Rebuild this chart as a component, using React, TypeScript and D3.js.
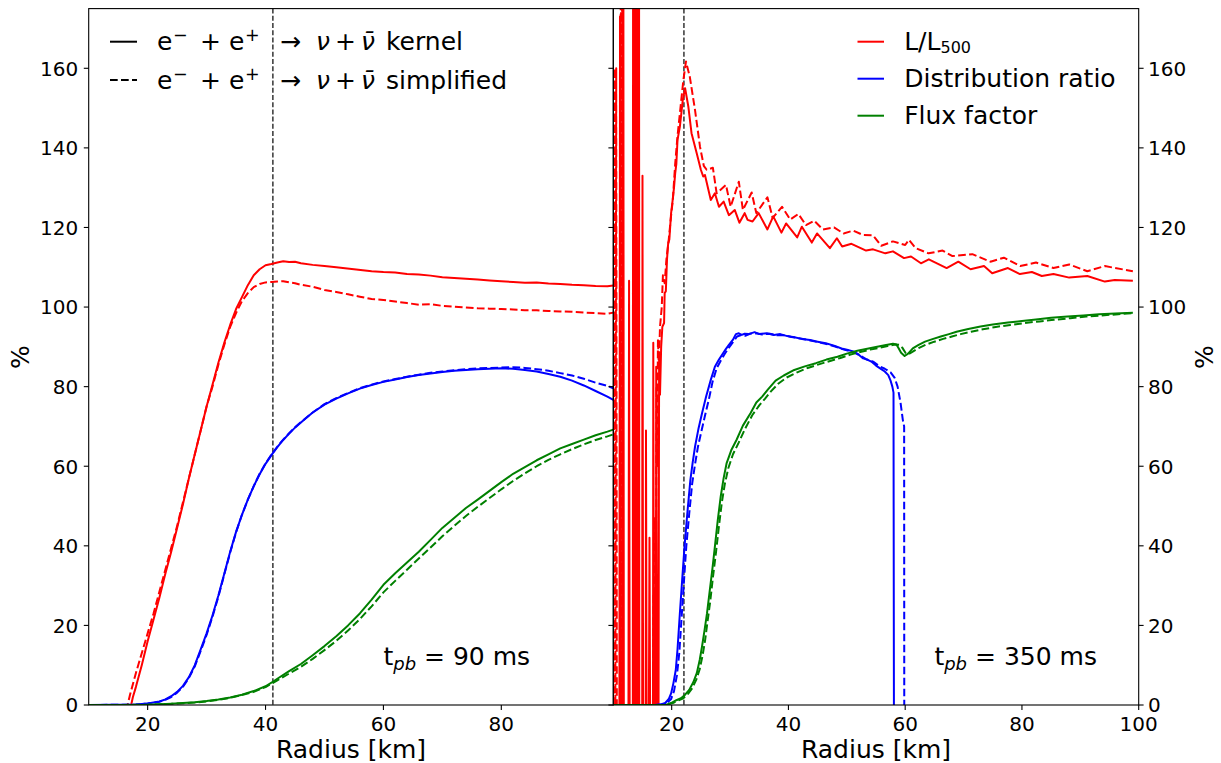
import React from 'react';
import * as d3 from 'd3';

type P = [number, number];

// ---------- Left panel (t_pb = 90 ms) ----------
const leftLumKernel: P[] = [[10,0],[17.2,0],[17.5,2],[18,4.5],[19,10],[20,16],[21,21.5],[22,27],[23,33],[24,38.5],[25,44.5],[26,50.5],[27,57],[28,63],[29,69],[30,75],[31,80.5],[32,86],[33,91],[34,95.5],[35,99.5],[36,102.5],[37,105.5],[38,108],[39,109.5],[40,110.5],[41,110.8],[42,111.2],[43,111.5],[44,111.3],[45,111.4],[46,111],[48,110.6],[50,110.3],[52,110],[55,109.5],[58,109],[60,108.8],[62,108.7],[64,108.3],[66,108.2],[68,107.9],[70,107.5],[72,107.3],[74,107.1],[76,106.9],[78,106.7],[80,106.5],[82,106.3],[84,106.1],[86,106.2],[88,105.9],[90,105.8],[92,105.6],[94,105.5],[96,105.3],[98,105.2],[99,105.4]];
const leftLumSimple: P[] = [[10,0],[16.6,0],[17,2.5],[18,8],[19,13],[20,18],[21,23],[22,28.5],[23,34],[24,39.5],[25,45],[26,51],[27,57],[28,63],[29,69],[30,75],[31,80],[32,85.5],[33,90.5],[34,95],[35,98.5],[36,101.5],[37,103.5],[38,105],[39,105.8],[40,106.2],[41,106.3],[42,106.4],[43,106.5],[44,106.2],[45,106],[46,105.6],[48,105.1],[50,104.3],[52,103.8],[54,103.2],[56,102.6],[58,102],[60,101.8],[62,101.4],[64,101],[66,100.6],[68,100.7],[70,100.3],[72,100.1],[74,99.9],[76,99.7],[78,99.6],[80,99.5],[82,99.4],[84,99.2],[86,99.2],[88,99],[90,98.9],[92,98.8],[94,98.6],[96,98.5],[98,98.3],[99,98.6]];
const leftDistKernel: P[] = [[10,0],[18,0.1],[20,0.4],[22,0.9],[23,1.4],[24,2.2],[25,3.3],[26,4.8],[27,7],[28,10],[29,14],[30,18],[31,22.5],[32,27.5],[33,33],[34,38.5],[35,43.5],[36,47.8],[37,51.6],[38,55],[39,58],[40,60.6],[41,62.8],[42,64.8],[43,66.6],[44,68.2],[45,69.7],[46,71],[48,73.5],[50,75.5],[52,77],[54,78.3],[56,79.5],[58,80.4],[60,81.2],[62,81.8],[64,82.4],[66,82.9],[68,83.3],[70,83.7],[72,84],[74,84.2],[76,84.4],[78,84.5],[80,84.6],[82,84.5],[84,84.2],[86,83.8],[88,83.2],[90,82.5],[92,81.5],[94,80.3],[96,78.9],[98,77.5],[99,76.7]];
const leftDistSimple: P[] = [[10,0],[18,0.1],[20,0.4],[22,0.8],[23,1.3],[24,2],[25,3.1],[26,4.6],[27,6.8],[28,9.7],[29,13.6],[30,17.6],[31,22.2],[32,27.2],[33,32.8],[34,38.3],[35,43.4],[36,47.8],[37,51.6],[38,55],[39,58.1],[40,60.7],[41,62.9],[42,64.9],[43,66.7],[44,68.3],[45,69.8],[46,71.1],[48,73.5],[50,75.6],[52,77.1],[54,78.4],[56,79.6],[58,80.5],[60,81.3],[62,81.9],[64,82.5],[66,83],[68,83.5],[70,83.8],[72,84.1],[74,84.4],[76,84.6],[78,84.7],[80,84.8],[82,84.9],[84,84.7],[86,84.4],[88,84],[90,83.4],[92,82.8],[94,82],[96,81],[98,80.2],[99,79.6]];
const leftFluxKernel: P[] = [[10,0],[20,0.05],[24,0.3],[28,0.7],[30,1],[32,1.4],[34,1.9],[36,2.6],[38,3.5],[40,4.7],[41.3,5.9],[42,6.6],[44,8.5],[46,10.3],[48,12.5],[50,14.8],[52,17.3],[54,20],[56,23],[58,26.5],[60,30.2],[62,33.1],[64,35.8],[66,38.5],[68,41.5],[70,44.5],[72,47],[74,49.5],[76,51.6],[78,53.8],[80,56],[82,58.1],[84,59.8],[86,61.5],[88,63],[90,64.5],[92,65.6],[94,66.7],[96,67.8],[98,68.7],[99,69.2]];
const leftFluxSimple: P[] = [[10,0],[20,0.05],[24,0.3],[28,0.6],[30,0.9],[32,1.3],[34,1.8],[36,2.5],[38,3.3],[40,4.5],[42,6.2],[44,7.9],[46,9.6],[48,11.6],[50,13.8],[52,16.1],[54,18.7],[56,21.6],[58,24.8],[60,28.3],[62,31.2],[64,34],[66,36.8],[68,39.6],[70,42.4],[72,45],[74,47.5],[76,49.8],[78,52],[80,54.2],[82,56.3],[84,58.2],[86,60],[88,61.6],[90,63],[92,64.3],[94,65.5],[96,66.6],[98,67.5],[99,68]];

// ---------- Right panel (t_pb = 350 ms) ----------
const rightLumKernel: P[] = [[10,0],[11.05,0],[11.15,173],[11.25,0],[11.6,0],[11.7,260],[11.8,0],[12.6,0],[12.7,106.6],[12.8,0],[13.35,0],[13.4,260],[13.5,-40],[13.65,260],[13.75,-40],[13.9,260],[14,-40],[14.15,260],[14.25,-40],[14.4,260],[14.45,0],[14.95,0],[15,133],[15.1,0],[15.55,0],[15.6,69],[15.7,0],[16.1,0],[16.2,42],[16.3,0],[16.8,0],[16.85,91],[16.95,0],[17.3,0],[17.35,85],[17.5,0],[17.75,0],[17.85,88],[18,78],[18.2,90],[18.4,95],[18.7,96],[18.8,103.5],[19,104],[19.2,112],[19.4,116],[19.6,117],[19.9,123.6],[20.1,126],[20.4,130],[20.6,133.6],[20.8,136],[21,142],[21.4,145.3],[21.9,152],[22.3,155],[22.85,150.4],[23.4,143.7],[24.3,138.6],[25,134.5],[25.4,132.8],[25.7,133.2],[26.7,126.9],[27.4,128.6],[28.1,125.2],[28.9,126.5],[29.8,123.1],[30.8,124.4],[31.6,121.2],[32.5,123.6],[33,121.9],[33.85,121.5],[34.9,123.6],[36.4,119.5],[37.4,122.8],[38.8,118.7],[39.6,121],[41.5,117.5],[42.3,120.2],[44,116.2],[44.9,118.5],[47.1,114.8],[48.3,117.3],[49.2,115.2],[50.8,115.9],[53.3,114.2],[54.5,114.5],[56.6,113.5],[57.9,114],[59.8,112.3],[61,112.7],[62.7,111],[64.05,112],[67.1,109.8],[69.1,111.4],[71.2,109.5],[73.5,110.3],[74.9,108.5],[77.6,109.8],[79.65,108.3],[81.7,108.8],[83.4,107.8],[85.4,108.3],[88.1,107.4],[91.2,107.8],[94.2,106.4],[95.9,106.8],[99,106.6]];
const rightLumSimple: P[] = [[10,0],[10.25,160],[10.35,0],[10.5,160],[10.6,0],[11.2,0],[11.3,260],[11.4,0],[11.55,260],[11.65,0],[13.5,0],[13.6,260],[13.7,0],[14,260],[14.1,0],[16.8,0],[16.9,28],[17,0],[17.15,47],[17.25,0],[17.4,80],[17.5,60],[17.65,92],[17.8,85],[18,95],[18.3,100],[18.5,108],[18.8,106],[19.1,112],[19.5,117],[19.9,123],[20.2,127],[20.6,136],[21,143],[21.5,150],[22,157],[22.45,161.7],[23.1,157.9],[24,149.5],[24.85,140.3],[25.5,135.5],[26,134.5],[27.06,135],[27.7,128.6],[29.3,130.7],[30.1,125.2],[31.5,131.5],[32.2,124.4],[33.7,128.8],[34.5,123.6],[36.4,127.6],[37.3,122.4],[38.9,125.2],[40.3,122],[41.7,123.4],[43,120.6],[44.4,121.7],[45.9,119.5],[47.8,120],[49.45,118.5],[51.1,119.2],[52.8,118.1],[54.5,118],[55.9,115.4],[57.9,116.5],[60,115.6],[60.65,116.9],[61.8,114.8],[64,113.5],[66.4,114.2],[68.1,112.8],[71.5,113.3],[74.6,111.4],[76.9,112.4],[79.7,110.3],[82.4,111.2],[85.4,109.8],[88.1,110.7],[91.2,109],[94.2,110.3],[99,109]];
const rightDistKernel: P[] = [[10,0],[17,0],[18,0.1],[18.9,0.5],[19.5,1.5],[19.9,2.9],[20.3,5.5],[20.7,8.8],[21,14],[21.4,23],[21.8,31.5],[22.2,39.8],[22.7,48.5],[23.2,56.5],[23.6,61],[24,64.9],[24.6,69.5],[25.2,73.3],[25.9,77.5],[26.7,81.7],[27.4,85],[28.1,86.8],[28.8,88.4],[29.3,89.5],[29.8,90.5],[30.5,91.8],[31,93.2],[31.5,93.4],[32,93],[32.5,93.3],[33.2,93.2],[34.2,93.7],[35,93.2],[36.3,93.4],[37.5,93],[38.6,93.2],[39.8,92.7],[41,92.4],[42.3,92],[43.7,91.7],[45,91.3],[46.4,90.9],[47.8,90.3],[49.1,89.6],[50.2,89.2],[51.2,88.8],[52,88.1],[52.8,87.1],[53.5,86.8],[54.2,86.3],[55,85.3],[55.9,84.4],[56.5,83.8],[57.1,82.9],[57.5,81.5],[57.8,80],[58,78.5],[58.07,0]];
const rightDistSimple: P[] = [[10,0],[17,0],[18.3,0.1],[19.2,0.5],[19.9,1.5],[20.4,3.5],[20.9,7.5],[21.3,13],[21.7,22],[22.1,31],[22.5,39.8],[23,48],[23.5,55.5],[24,60.5],[24.5,64.9],[25.2,69.5],[25.8,73.3],[26.4,77],[27,81.2],[27.7,84.6],[28.4,86.5],[29,88],[29.7,89.6],[30.4,91],[31.2,92.6],[31.8,92.9],[32.6,92.8],[33.4,93.3],[34.5,93.4],[35.5,93.1],[36.8,93.3],[38,92.9],[39.2,92.9],[40.5,92.5],[42,92.1],[43.5,91.7],[45,91.2],[46.5,90.7],[48,90.1],[49.5,89.3],[51,88.8],[52.3,87.8],[53.3,86.9],[54.5,86.3],[55.5,85.2],[56.5,84.5],[57.5,83.6],[58.2,82.2],[58.7,80],[59.2,76],[59.6,71.6],[59.82,70],[59.84,0]];
const rightFluxKernel: P[] = [[10,0],[19,0],[19.9,0.5],[20.8,1.2],[21.6,1.7],[22.3,2.6],[23,3.8],[23.7,5.7],[24.3,8],[24.8,11.3],[25.2,14.7],[25.6,18.5],[26.05,23],[26.5,28.5],[27,34.5],[27.4,39.8],[27.9,46.5],[28.4,52.4],[28.9,57],[29.4,60.7],[30.2,64],[31.1,66.6],[32.2,70.2],[33.5,73.3],[34.5,76],[35.5,77.5],[36.5,79.3],[37.8,81.5],[39.2,82.8],[41,84.2],[42.8,85.1],[44.7,85.9],[46.5,86.8],[48.4,87.5],[50,88.3],[51.8,89],[53.5,89.5],[55.2,90],[56.5,90.4],[57.9,90.8],[58.5,90.6],[58.9,89.6],[59.3,88.5],[59.9,87.7],[60.5,88.3],[61.3,89.6],[62.3,90.5],[63.4,91.3],[64.8,92],[66.1,92.6],[67.5,93.2],[68.8,93.8],[70.8,94.5],[72.9,95.1],[75,95.6],[77.6,96.1],[80,96.5],[82.4,96.9],[85,97.3],[87.8,97.6],[90.5,97.9],[93.2,98.2],[96,98.4],[99,98.6]];
const rightFluxSimple: P[] = [[10,0],[19,0],[20.2,0.5],[21.2,1.2],[22,1.7],[22.8,2.8],[23.5,4.2],[24.2,6.3],[24.8,9],[25.3,12.5],[25.7,16],[26.1,20.5],[26.6,26],[27.1,32.5],[27.6,38.5],[28.1,45],[28.6,51],[29.1,55.5],[29.7,59.5],[30.5,63],[31.5,66],[32.6,69.5],[33.8,72.8],[35,75.3],[36,77],[37,78.8],[38.3,80.8],[39.7,82.3],[41.5,83.6],[43.3,84.7],[45.2,85.6],[47,86.4],[48.9,87.2],[50.5,88],[52.3,88.7],[54,89.3],[55.7,89.8],[57,90.2],[58.3,90.6],[59,90.5],[59.5,89.8],[60.1,88.4],[60.6,88.2],[61.3,88.8],[62.3,89.7],[63.5,90.5],[65,91.3],[66.5,92],[68,92.6],[69.5,93.2],[71.3,93.8],[73.3,94.4],[75.5,95],[78,95.5],[80.5,96],[83,96.4],[85.5,96.8],[88.3,97.2],[91,97.6],[93.7,97.9],[96.5,98.2],[99,98.5]];

const leftShockRadius = 41.25;
const rightShockRadius = 22.1;
const yTicks = [0, 20, 40, 60, 80, 100, 120, 140, 160];
const leftXTicks = [20, 40, 60, 80];
const rightXTicks = [20, 40, 60, 80, 100];
const leftTimeLabel = '90 ms';
const rightTimeLabel = '350 ms';
const seriesLabels = ['Distribution ratio', 'Flux factor'];

const FONT = '"DejaVu Sans", sans-serif';
const RED = '#ff0000', BLUE = '#0000ff', GREEN = '#008000';
const DASH = '7.7,3.3';

const TOP = 8.6, BOTTOM = 705;
const y = d3.scaleLinear().domain([0, 175]).range([BOTTOM, TOP]);
const xL = d3.scaleLinear().domain([10, 99]).range([88.7, 613.3]);
const xR = d3.scaleLinear().domain([10, 100]).range([613.3, 1138.7]);

function Panel({ x, id, series, shock, ticks, time }: any) {
  const line = d3.line<P>().x(d => x(d[0])).y(d => y(d[1]));
  const [x0, x1] = x.range();
  return (
    <g>
      <defs>
        <clipPath id={id}><rect x={x0} y={TOP} width={x1 - x0} height={BOTTOM - TOP} /></clipPath>
      </defs>
      <g clipPath={`url(#${id})`}>
        <line x1={x(shock)} x2={x(shock)} y1={TOP} y2={BOTTOM} stroke="#000" strokeWidth={1.2} strokeDasharray="5,2.2" />
        {series.map((s: any, i: number) => (
          <path key={i} d={line(s.data) || ''} fill="none" stroke={s.color} strokeWidth={2}
            strokeDasharray={s.dashed ? DASH : undefined} strokeLinejoin="round" />
        ))}
      </g>
      <rect x={x0} y={TOP} width={x1 - x0} height={BOTTOM - TOP} fill="none" stroke="#000" strokeWidth={1.1} />
      {ticks.map((t: number) => (
        <g key={t}>
          <line x1={x(t)} x2={x(t)} y1={BOTTOM} y2={BOTTOM + 4.9} stroke="#000" strokeWidth={1.1} />
          <text x={x(t)} y={730.5} fontSize={20} textAnchor="middle" fontFamily={FONT}>{t}</text>
        </g>
      ))}
      <text x={(x0 + x1) / 2} y={758} fontSize={25} textAnchor="middle" fontFamily={FONT}>Radius [km]</text>
      <text x={x(time.r)} y={y(10)} fontSize={25} fontFamily={FONT} style={{ whiteSpace: 'pre' }}>
        t<tspan fontStyle="italic" fontSize={18} dy={4.5}>pb</tspan><tspan dy={-4.5}>{' = ' + time.label}</tspan>
      </text>
    </g>
  );
}

export default function App() {
  const leftSeries = [
    { data: leftLumKernel, color: RED }, { data: leftLumSimple, color: RED, dashed: true },
    { data: leftDistKernel, color: BLUE }, { data: leftDistSimple, color: BLUE, dashed: true },
    { data: leftFluxKernel, color: GREEN }, { data: leftFluxSimple, color: GREEN, dashed: true },
  ];
  const rightSeries = [
    { data: rightLumKernel, color: RED }, { data: rightLumSimple, color: RED, dashed: true },
    { data: rightDistKernel, color: BLUE }, { data: rightDistSimple, color: BLUE, dashed: true },
    { data: rightFluxKernel, color: GREEN }, { data: rightFluxSimple, color: GREEN, dashed: true },
  ];
  const reaction = (row: number, suffix: string) => {
    const by = row === 0 ? 50 : 89.3;
    const sy = by - 9.5;
    return (
      <text y={by} fontSize={25} fontFamily={FONT} style={{ whiteSpace: 'pre' }}>
        <tspan x={157} y={by}>e</tspan>
        <tspan x={173} y={sy} fontSize={17.5}>−</tspan>
        <tspan x={200} y={by}>+ e</tspan>
        <tspan x={245} y={sy} fontSize={17.5}>+</tspan>
        <tspan x={280} y={by}>→</tspan>
        <tspan x={316} y={by} fontStyle="italic">ν</tspan>
        <tspan x={335} y={by}>+</tspan>
        <tspan x={361} y={by} fontStyle="italic">ν̄</tspan>
        <tspan x={386} y={by}>{suffix}</tspan>
      </text>
    );
  };
  return (
    <svg width={1221} height={763} style={{ position: 'absolute', left: 0, top: 0, background: '#fff' }}>
      <rect width={1221} height={763} fill="#fff" />
      <Panel x={xL} id="clipL" series={leftSeries} shock={leftShockRadius} ticks={leftXTicks} time={{ r: 60, label: leftTimeLabel }} />
      <Panel x={xR} id="clipR" series={rightSeries} shock={rightShockRadius} ticks={rightXTicks} time={{ r: 65, label: rightTimeLabel }} />
      {yTicks.map(t => (
        <g key={t}>
          <line x1={88.7} x2={83.8} y1={y(t)} y2={y(t)} stroke="#000" strokeWidth={1.1} />
          <text x={78.3} y={y(t) + 7.3} fontSize={20} textAnchor="end" fontFamily={FONT}>{t}</text>
          <line x1={613.3} x2={608.4} y1={y(t)} y2={y(t)} stroke="#000" strokeWidth={1.1} />
          <line x1={1138.7} x2={1143.6} y1={y(t)} y2={y(t)} stroke="#000" strokeWidth={1.1} />
          <text x={1148} y={y(t) + 7.3} fontSize={20} fontFamily={FONT}>{t}</text>
        </g>
      ))}
      <text transform="translate(29,357) rotate(-90)" fontSize={25} textAnchor="middle" fontFamily={FONT}>%</text>
      <text transform="translate(1213,357) rotate(-90)" fontSize={25} textAnchor="middle" fontFamily={FONT}>%</text>
      <line x1={110} x2={137} y1={41.7} y2={41.7} stroke="#000" strokeWidth={2} />
      <line x1={110} x2={137} y1={80} y2={80} stroke="#000" strokeWidth={2} strokeDasharray={DASH} />
      {reaction(0, 'kernel')}
      {reaction(1, 'simplified')}
      <line x1={857.5} x2={884} y1={41.7} y2={41.7} stroke={RED} strokeWidth={2} />
      <line x1={857.5} x2={884} y1={78.7} y2={78.7} stroke={BLUE} strokeWidth={2} />
      <line x1={857.5} x2={884} y1={115.7} y2={115.7} stroke={GREEN} strokeWidth={2} />
      <text x={904.2} y={50} fontSize={25} fontFamily={FONT}>L/L<tspan fontSize={16} dy={3.3}>500</tspan></text>
      <text x={904.2} y={87.3} fontSize={25} fontFamily={FONT}>{seriesLabels[0]}</text>
      <text x={904.2} y={124} fontSize={25} fontFamily={FONT}>{seriesLabels[1]}</text>
    </svg>
  );
}
